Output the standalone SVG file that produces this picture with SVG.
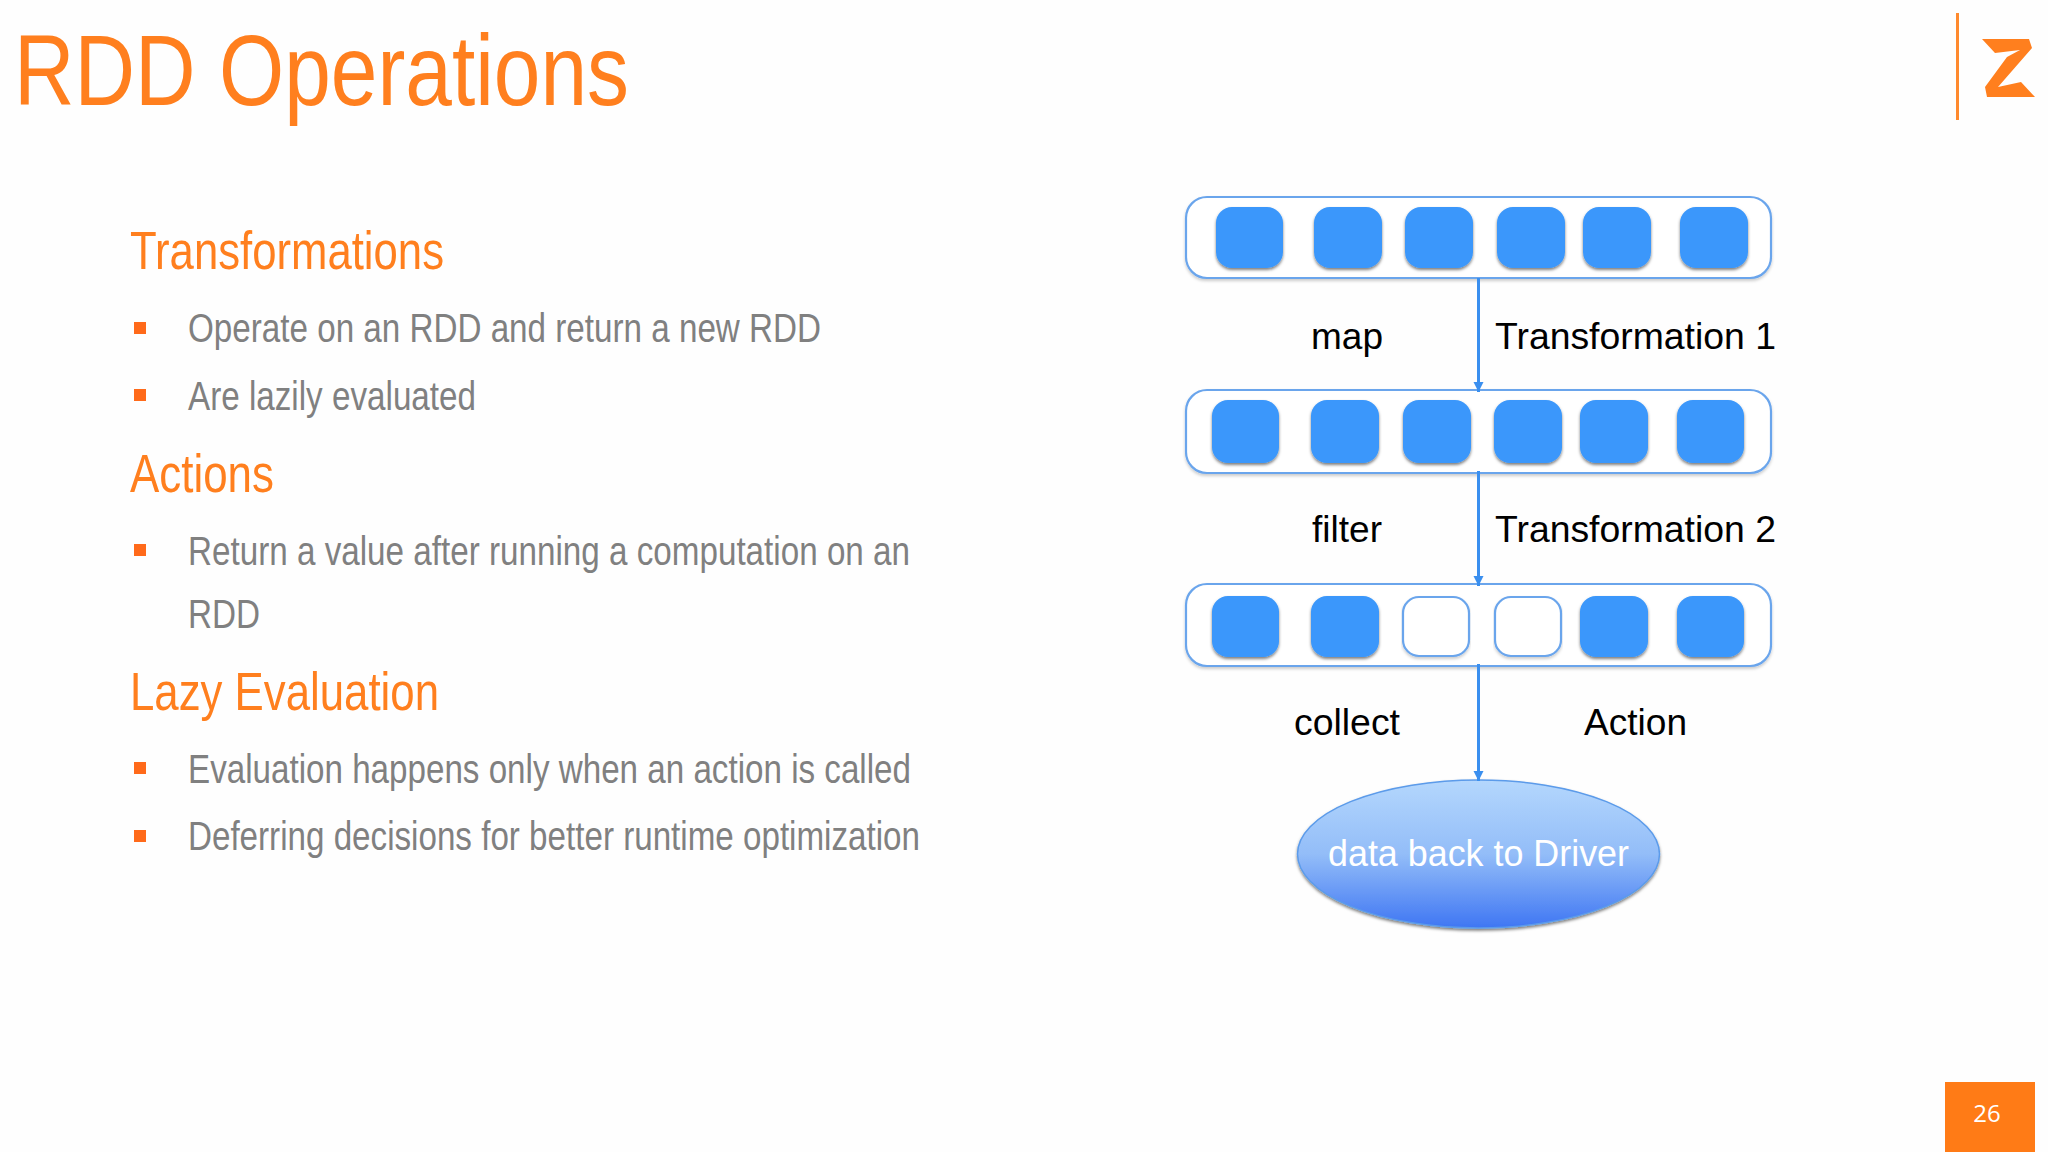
<svg xmlns="http://www.w3.org/2000/svg" width="2048" height="1152" viewBox="0 0 2048 1152">
<style>
text{font-family:"Liberation Sans",Arial,sans-serif}
.title{font-size:100px;fill:#ff7f1e}
.h{font-size:53px;fill:#ff7f1e}
.b{font-size:40px;fill:#808080}
.bul{fill:#ff6a1a}
.lab{font-size:37px;fill:#000}
.row{fill:#fff;stroke:#6aa5ec;stroke-width:2.2;filter:url(#ls)}
.sq{fill:#3a97fb;filter:url(#ds)}
.em{fill:#fff;stroke:#6aa5ec;stroke-width:2.2;filter:url(#ls)}
.conn{stroke:#3a8fef;stroke-width:3;fill:none;marker-end:url(#ah)}
</style>
<defs>
<filter id="ds" x="-10%" y="-10%" width="120%" height="120%"><feDropShadow dx="0" dy="2" stdDeviation="1.5" flood-color="#000" flood-opacity=".5"/></filter>
<filter id="ls" x="-3%" y="-10%" width="106%" height="125%"><feDropShadow dx="0" dy="2" stdDeviation="1.5" flood-color="#000" flood-opacity=".2"/></filter>
<marker id="ah" markerUnits="userSpaceOnUse" markerWidth="12" markerHeight="12" refX="11" refY="6" orient="auto"><path d="M1 1 L11 6 L1 11 Z" fill="#3a8fef"/></marker>
<linearGradient id="eg" x1="0" y1="0" x2="0" y2="1"><stop offset="0" stop-color="#b4d7fd"/><stop offset=".5" stop-color="#93bdf8"/><stop offset="1" stop-color="#3f76f3"/></linearGradient>
</defs>
<rect width="2048" height="1152" fill="#fefefe"/>
<text class="title" x="14" y="105" textLength="615" lengthAdjust="spacingAndGlyphs">RDD Operations</text>
<g id="logo"><rect x="1956" y="13" width="3" height="107" fill="#ff8a2e"/>
<path d="M1982 39 L2029 39 L2032 48 L1998 87 L2021 82 L2035 97 L1987 97 L1985 87 L2007 57 L2020 50 L1995 53 Z" fill="#ff7f1e"/></g>
<g id="bullets-left">
<text class="h" x="130" y="269" textLength="314" lengthAdjust="spacingAndGlyphs">Transformations</text>
<rect class="bul" x="134" y="322" width="12" height="12"/>
<text class="b" x="188" y="342" textLength="633" lengthAdjust="spacingAndGlyphs">Operate on an RDD and return a new RDD</text>
<rect class="bul" x="134" y="389" width="12" height="12"/>
<text class="b" x="188" y="410" textLength="288" lengthAdjust="spacingAndGlyphs">Are lazily evaluated</text>
<text class="h" x="130" y="492" textLength="144" lengthAdjust="spacingAndGlyphs">Actions</text>
<rect class="bul" x="134" y="544" width="12" height="12"/>
<text class="b" x="188" y="565" textLength="722" lengthAdjust="spacingAndGlyphs">Return a value after running a computation on an</text>
<text class="b" x="188" y="628" textLength="72" lengthAdjust="spacingAndGlyphs">RDD</text>
<text class="h" x="130" y="710" textLength="309" lengthAdjust="spacingAndGlyphs">Lazy Evaluation</text>
<rect class="bul" x="134" y="762" width="12" height="12"/>
<text class="b" x="188" y="783" textLength="723" lengthAdjust="spacingAndGlyphs">Evaluation happens only when an action is called</text>
<rect class="bul" x="134" y="830" width="12" height="12"/>
<text class="b" x="188" y="850" textLength="732" lengthAdjust="spacingAndGlyphs">Deferring decisions for better runtime optimization</text>
</g>
<g id="rdd1"><rect class="row" x="1186" y="197" width="585" height="81" rx="21"/>
<rect class="sq" x="1216" y="207" width="67" height="61" rx="16"/><rect class="sq" x="1314" y="207" width="68" height="61" rx="16"/><rect class="sq" x="1405" y="207" width="68" height="61" rx="16"/><rect class="sq" x="1497" y="207" width="68" height="61" rx="16"/><rect class="sq" x="1583" y="207" width="68" height="61" rx="16"/><rect class="sq" x="1680" y="207" width="68" height="61" rx="16"/></g>
<g id="rdd2"><rect class="row" x="1186" y="390" width="585" height="83" rx="21"/>
<rect class="sq" x="1212" y="400" width="67" height="63" rx="16"/><rect class="sq" x="1311" y="400" width="68" height="63" rx="16"/><rect class="sq" x="1403" y="400" width="68" height="63" rx="16"/><rect class="sq" x="1494" y="400" width="68" height="63" rx="16"/><rect class="sq" x="1580" y="400" width="68" height="63" rx="16"/><rect class="sq" x="1677" y="400" width="67" height="63" rx="16"/></g>
<g id="rdd3"><rect class="row" x="1186" y="584" width="585" height="82" rx="21"/>
<rect class="sq" x="1212" y="596" width="67" height="61" rx="16"/><rect class="sq" x="1311" y="596" width="68" height="61" rx="16"/><rect class="em" x="1403" y="597" width="66" height="59" rx="16"/><rect class="em" x="1495" y="597" width="66" height="59" rx="16"/><rect class="sq" x="1580" y="596" width="68" height="61" rx="16"/><rect class="sq" x="1677" y="596" width="67" height="61" rx="16"/></g>
<g id="driver"><ellipse cx="1478.5" cy="854" rx="181" ry="74" fill="url(#eg)" stroke="#5b9bea" stroke-width="1.5" filter="url(#ds)"/>
<text x="1328" y="866" font-size="37" fill="#fff" textLength="301" lengthAdjust="spacingAndGlyphs">data back to Driver</text></g>
<g id="connectors"><path class="conn" d="M1478.5 278 V392"/><path class="conn" d="M1478.5 471 V586"/><path class="conn" d="M1478.5 664 V781"/></g>
<g id="labels">
<text class="lab" x="1311" y="349" textLength="72" lengthAdjust="spacingAndGlyphs">map</text>
<text class="lab" x="1495" y="349" textLength="281" lengthAdjust="spacingAndGlyphs">Transformation 1</text>
<text class="lab" x="1312" y="542" textLength="70" lengthAdjust="spacingAndGlyphs">filter</text>
<text class="lab" x="1495" y="542" textLength="281" lengthAdjust="spacingAndGlyphs">Transformation 2</text>
<text class="lab" x="1294" y="735" textLength="106" lengthAdjust="spacingAndGlyphs">collect</text>
<text class="lab" x="1584" y="735" textLength="103" lengthAdjust="spacingAndGlyphs">Action</text>
</g>
<g id="page"><rect x="1945" y="1082" width="90" height="70" fill="#ff7b16"/>
<text x="1987" y="1122" text-anchor="middle" font-size="24" fill="#fff" style="font-family:'Open Sans',sans-serif">26</text></g>
</svg>
